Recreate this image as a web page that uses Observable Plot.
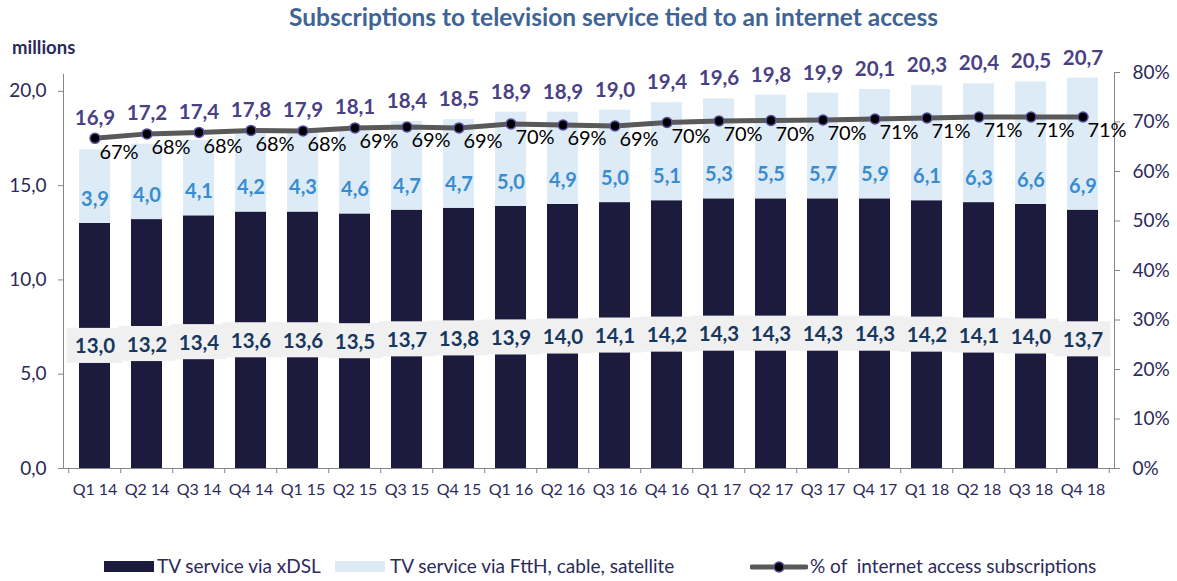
<!DOCTYPE html>
<html>
<head>
<meta charset="utf-8">
<script src="https://cdn.jsdelivr.net/npm/d3@7"></script>
<script src="https://cdn.jsdelivr.net/npm/@observablehq/plot@0.6"></script>
<style>
  html, body { margin: 0; padding: 0; background: #fff; }
  body { width: 1177px; height: 581px; position: relative; overflow: hidden; font-family: Lato, "Open Sans", sans-serif; }
  #title { position: absolute; left: 50px; top: 2px; width: 1127px; text-align: center; font-size: 24.5px; font-weight: bold; color: #3e6495; line-height: 30px; z-index: 2; }
  #unit { position: absolute; left: 12px; top: 35px; font-size: 18.5px; font-weight: bold; color: #2b2a5a; line-height: 24px; z-index: 2; }
  #chart { position: absolute; left: 0; top: 30px; }
  .leg { position: absolute; top: 555px; font-size: 19px; color: #2b2a5a; line-height: 22px; white-space: nowrap; }
  .sw { position: absolute; top: 561px; height: 11px; width: 50px; }
</style>
</head>
<body>
<div id="chart"></div>
<div id="title">Subscriptions to television service tied to an internet access</div>
<div id="unit">millions</div>
<div class="sw" style="left:104px; background:#1c1b3e"></div>
<div class="leg" style="left:157px">TV service via xDSL</div>
<div class="sw" style="left:335px; background:#ddebf7"></div>
<div class="leg" style="left:390px">TV service via FttH, cable, satellite</div>
<svg style="position:absolute; left:750px; top:557px" width="58" height="20">
  <line x1="2" y1="10" x2="56" y2="10" stroke="#595959" stroke-width="5" stroke-linecap="round"></line>
  <circle cx="29" cy="10" r="5" fill="#000" stroke="#5a4fa0" stroke-width="1.5"></circle>
</svg>
<div class="leg" style="left:810px">% of&nbsp; internet access subscriptions</div>
<script>
const quarters = ["Q1 14","Q2 14","Q3 14","Q4 14","Q1 15","Q2 15","Q3 15","Q4 15","Q1 16","Q2 16","Q3 16","Q4 16","Q1 17","Q2 17","Q3 17","Q4 17","Q1 18","Q2 18","Q3 18","Q4 18"];
const xdsl  = [13.0,13.2,13.4,13.6,13.6,13.5,13.7,13.8,13.9,14.0,14.1,14.2,14.3,14.3,14.3,14.3,14.2,14.1,14.0,13.7];
const other = [3.9,4.0,4.1,4.2,4.3,4.6,4.7,4.7,5.0,4.9,5.0,5.1,5.3,5.5,5.7,5.9,6.1,6.3,6.6,6.9];
const total = [16.9,17.2,17.4,17.8,17.9,18.1,18.4,18.5,18.9,18.9,19.0,19.4,19.6,19.8,19.9,20.1,20.3,20.4,20.5,20.7];
const share = [66.7,67.6,67.9,68.3,68.2,68.8,69.0,68.8,69.6,69.4,69.2,69.9,70.2,70.3,70.4,70.6,70.8,71.0,71.0,71.0];
const leftTicks = [0,5,10,15,20];
const rightTicks = [0,10,20,30,40,50,60,70,80];

const yMax = 21, pMax = 80, k = yMax / pMax;
const data = quarters.map((q, i) => ({q, xdsl: xdsl[i], other: other[i], total: total[i], share: share[i]}));
const fmt = v => v.toFixed(1).replace(".", ",");

const W = 1177, ML = 63, MR = 63;
const step = (W - ML - MR) / quarters.length;

const chart = Plot.plot({
  width: W,
  height: 478,
  marginLeft: ML,
  marginRight: MR,
  marginTop: 42,
  marginBottom: 40,
  style: {fontFamily: "Lato, 'Open Sans', sans-serif", fontSize: "18px", background: "transparent"},
  x: {domain: quarters, paddingInner: 0.41, paddingOuter: 0.205, axis: null},
  y: {domain: [0, yMax], axis: null},
  marks: [
    Plot.frame({stroke: "#868686"}),
    Plot.ruleY([yMax], {stroke: "white", strokeWidth: 2.5}),
    Plot.barY(data, {x: "q", y1: 0, y2: "xdsl", fill: "#1c1b3e"}),
    Plot.barY(data, {x: "q", y1: "xdsl", y2: "total", fill: "#ddebf7"}),
    Plot.barY(data, {x: "q", y1: d => d.xdsl / 2 - 0.93, y2: d => d.xdsl / 2 + 0.93, fill: "#f0f0f0", insetLeft: -12.5, insetRight: -12.5}),
    Plot.ruleX(data, {x: "q", y1: 0, y2: -0.27, dx: -step / 2, stroke: "#868686"}),
    Plot.ruleX(data.slice(-1), {x: "q", y1: 0, y2: -0.27, dx: step / 2, stroke: "#868686"}),
    Plot.axisX({tickSize: 0, tickPadding: 15, fontSize: 16, fill: "#2b2a5a", label: null}),
    Plot.axisY(leftTicks, {anchor: "left", tickSize: 5, tickPadding: 12, stroke: "#868686", fill: "#2b2a5a", fontSize: 19, tickFormat: fmt, label: null}),
    Plot.axisY(rightTicks.map(p => p * k), {anchor: "right", tickSize: 5, tickPadding: 13, stroke: "#868686", fill: "#2b2a5a", fontSize: 19, tickFormat: d => Math.round(d / k) + "%", label: null}),
    Plot.text(data, {x: "q", y: d => d.xdsl / 2, text: d => fmt(d.xdsl), fill: "#17375e", fontWeight: "bold", fontSize: 20.5, dy: 1}),
    Plot.text(data, {x: "q", y: "xdsl", text: d => fmt(d.other), fill: "#3a8cd0", fontWeight: "bold", fontSize: 20, dy: -24}),
    Plot.line(data, {x: "q", y: d => d.share * k, stroke: "#595959", strokeWidth: 5}),
    Plot.dot(data, {x: "q", y: d => d.share * k, r: 5, fill: "#000", stroke: "#5a4fa0", strokeWidth: 1.5}),
    Plot.text(data, {x: "q", y: d => d.share * k, text: d => Math.round(d.share) + "%", fill: "#000", fontSize: 20, dx: 24, dy: 14}),
    Plot.text(data, {x: "q", y: d => Math.max(d.total, d.share * k), text: d => fmt(d.total), fill: "#4a4185", fontWeight: "bold", fontSize: 20.5, dy: -20})
  ]
});
document.getElementById("chart").appendChild(chart);
</script>
</body>
</html>
